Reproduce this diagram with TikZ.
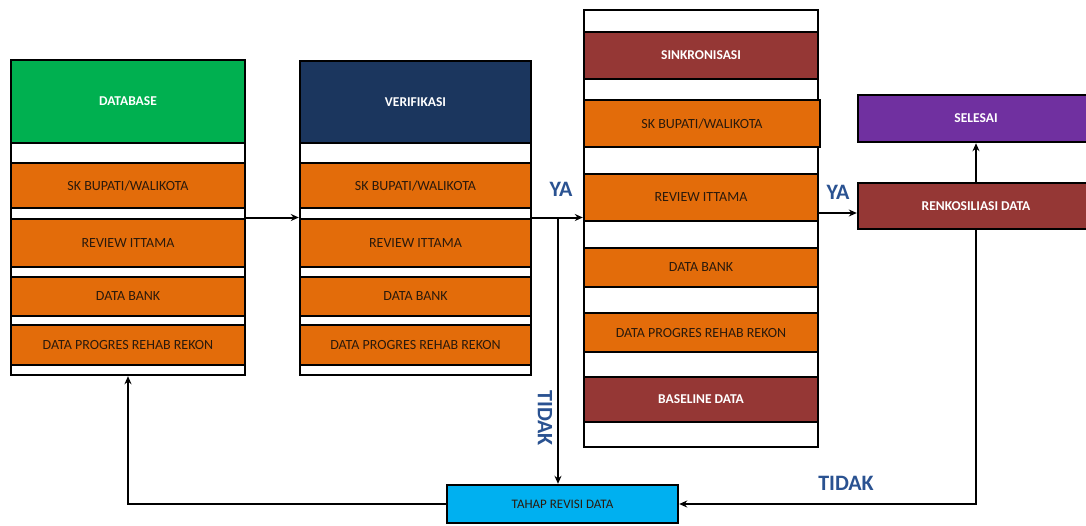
\documentclass[tikz,border=0pt]{standalone}
\usepackage{fontspec}
\setmainfont{Carlito}
\usetikzlibrary{arrows.meta,calc}

\definecolor{hdrgreen}{HTML}{00B050}
\definecolor{hdrnavy}{HTML}{1B365E}
\definecolor{barorange}{HTML}{E36C0A}
\definecolor{darkred}{HTML}{953735}
\definecolor{endpurple}{HTML}{7030A0}
\definecolor{revcyan}{HTML}{00B0F0}
\definecolor{lblblue}{HTML}{2A5291}
\definecolor{bartext}{HTML}{2B1A0C}

\tikzset{
  outerbox/.style={draw=black, line width=2.4pt, fill=white, inner sep=0pt},
  bar/.style={draw=black, line width=2.4pt, inner sep=0pt, align=center},
  orangebar/.style={bar, fill=barorange, text=bartext, font=\fontsize{14}{16}\selectfont},
  headbar/.style={bar, text=white, font=\bfseries\fontsize{13.5}{16}\selectfont},
  flow/.style={draw=black, line width=2pt, -{Stealth[length=8pt,width=7pt]}},
  answer/.style={text=lblblue, font=\bfseries\fontsize{22}{24}\selectfont, inner sep=0pt}
}

\begin{document}
\begin{tikzpicture}[x=1pt,y=-1pt]
  \useasboundingbox (0,0) rectangle (1086,525);
  \clip (0,0) rectangle (1086,525);

  % --- column 1: DATABASE ---
  \node[outerbox, minimum width=234pt, minimum height=315pt] (c1) at (128,217.5) {};
  \node[headbar, fill=hdrgreen, minimum width=234pt, minimum height=83pt] (c1h) at (128,101.5) {DATABASE};
  \node[orangebar, minimum width=234pt, minimum height=45pt] (c1a) at (128,185.5) {SK BUPATI/WALIKOTA};
  \node[orangebar, minimum width=234pt, minimum height=48pt] (c1b) at (128,243) {REVIEW ITTAMA};
  \node[orangebar, minimum width=234pt, minimum height=39pt] (c1c) at (128,296.5) {DATA BANK};
  \node[orangebar, minimum width=234pt, minimum height=40pt] (c1d) at (128,345) {DATA PROGRES REHAB REKON};

  % --- column 2: VERIFIKASI ---
  \node[outerbox, minimum width=231pt, minimum height=314pt] (c2) at (415.5,218) {};
  \node[headbar, fill=hdrnavy, minimum width=231pt, minimum height=82pt] (c2h) at (415.5,102) {VERIFIKASI};
  \node[orangebar, minimum width=231pt, minimum height=45pt] (c2a) at (415.5,185.5) {SK BUPATI/WALIKOTA};
  \node[orangebar, minimum width=231pt, minimum height=48pt] (c2b) at (415.5,243) {REVIEW ITTAMA};
  \node[orangebar, minimum width=231pt, minimum height=39pt] (c2c) at (415.5,296.5) {DATA BANK};
  \node[orangebar, minimum width=231pt, minimum height=40pt] (c2d) at (415.5,345) {DATA PROGRES REHAB REKON};

  % --- column 3: SINKRONISASI ---
  \node[outerbox, minimum width=234pt, minimum height=437pt] (c3) at (701,228.5) {};
  \node[headbar, fill=darkred, minimum width=234pt, minimum height=47pt] (c3h) at (701,55.5) {SINKRONISASI};
  \node[orangebar, minimum width=236pt, minimum height=47pt] (c3a) at (702,123.5) {SK BUPATI/WALIKOTA};
  \node[orangebar, minimum width=234pt, minimum height=47pt] (c3b) at (701,197.5) {REVIEW ITTAMA};
  \node[orangebar, minimum width=234pt, minimum height=39pt] (c3c) at (701,267.5) {DATA BANK};
  \node[orangebar, minimum width=234pt, minimum height=39pt] (c3d) at (701,332.5) {DATA PROGRES REHAB REKON};
  \node[headbar, fill=darkred, minimum width=234pt, minimum height=45pt] (c3e) at (701,399.5) {BASELINE DATA};

  % --- end boxes ---
  \node[headbar, fill=endpurple, minimum width=236pt, minimum height=47pt] (sel) at (976,118.5) {SELESAI};
  \node[headbar, fill=darkred, minimum width=236pt, minimum height=46pt] (ren) at (976,206) {RENKOSILIASI DATA};
  \node[bar, fill=revcyan, text=bartext, font=\fontsize{13}{15}\selectfont, minimum width=231pt, minimum height=38pt] (rev) at (562.5,504) {TAHAP REVISI DATA};

  % --- connectors ---
  \draw[flow] (c1.east) -- (c1.east -| c2.west);
  \coordinate (split) at ($(c2.east)+(0,-0.5)$);
  \draw[flow] (split) -- (split -| c3.west);
  \coordinate (br) at (558,217.5);
  \draw[flow] (br) -- (br |- rev.north);
  \coordinate (out3) at ($(c3.east)+(0,-15.5)$);
  \draw[flow] (out3) -- (out3 -| ren.west);
  \draw[flow] (ren.north) -- (sel.south);
  \draw[flow] (ren.south) -- (ren.south |- rev.east) -- (rev.east);
  \draw[flow] (rev.west) -- (rev.west -| c1.south) -- (c1.south);

  % --- decision labels ---
  \node[answer] (ya1) at (561,189) {YA};
  \node[answer] (ya2) at (838,192) {YA};
  \node[answer, rotate=-90] (td1) at (545,418) {TIDAK};
  \node[answer] (td2) at (846,483) {TIDAK};
\end{tikzpicture}
\end{document}
